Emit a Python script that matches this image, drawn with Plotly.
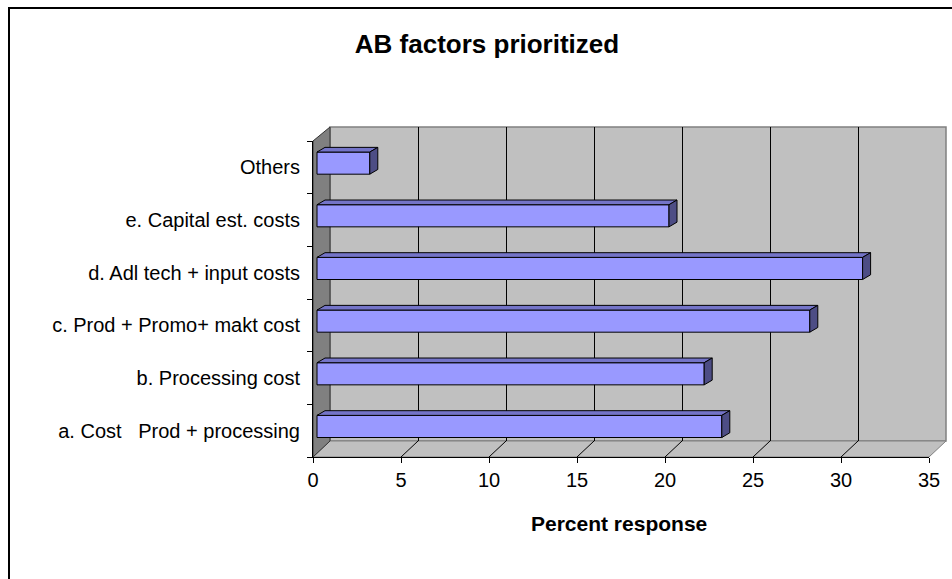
import plotly.graph_objects as go

# ---- data ----
categories = ["a. Cost\u00a0\u00a0 Prod + processing", "b. Processing cost",
              "c. Prod + Promo+ makt cost", "d. Adl tech + input costs",
              "e. Capital est. costs", "Others"]
values = [23, 22, 28, 31, 20, 3]
x_ticks = [0, 5, 10, 15, 20, 25, 30, 35]
title_text = "AB factors prioritized"
x_title = "Percent response"

# ---- layout geometry (pixels) ----
W, H = 952, 579
L, R, T, B = 313, 6, 127, 122
PW, PH = W - L - R, H - T - B
FRONT_W = 616          # front plane width (0..35)
FRONT_H = 316          # front plane height
DX, DY = 17, 16        # depth offset of back wall
XMAX = 35.0
UNIT = FRONT_W / XMAX  # px per unit

def px(xp):
    return xp / PW

def py(yp):
    return yp / PH

FONT = "Arial, Liberation Sans, sans-serif"

fig = go.Figure()

# back wall subplot (gridlines) on x/y
fig.add_trace(go.Scatter(x=[None], y=[None], xaxis="x", yaxis="y",
                         showlegend=False, hoverinfo="skip"))
# front axes subplot
fig.add_trace(go.Scatter(x=[None], y=[None], xaxis="x2", yaxis="y2",
                         showlegend=False, hoverinfo="skip"))

# bars (front faces)
BW = 0.42
BOFF = -0.13
fig.add_trace(go.Bar(
    orientation="h", x=values, y=categories, xaxis="x3", yaxis="y2",
    width=BW, offset=BOFF,
    marker=dict(color="#9999FF", line=dict(color="black", width=1)),
    showlegend=False, hoverinfo="skip"))

# 3D faces computed from values
ddx = 8 / UNIT
ddy = 4.7 / (FRONT_H / len(categories))
top_x, top_y, side_x, side_y = [], [], [], []
for i, v in enumerate(values):
    yb = i + BOFF
    yt = i + BOFF + BW
    top_x += [0, v, v + ddx, ddx, 0, None]
    top_y += [yt, yt, yt + ddy, yt + ddy, yt, None]
    side_x += [v, v, v + ddx, v + ddx, v, None]
    side_y += [yb, yt, yt + ddy, yb + ddy, yb, None]

fig.add_trace(go.Scatter(x=top_x, y=top_y, xaxis="x3", yaxis="y3", mode="lines",
                         fill="toself", fillcolor="#7474C8",
                         line=dict(color="black", width=1),
                         showlegend=False, hoverinfo="skip"))
fig.add_trace(go.Scatter(x=side_x, y=side_y, xaxis="x3", yaxis="y3", mode="lines",
                         fill="toself", fillcolor="#4D4D85",
                         line=dict(color="black", width=1),
                         showlegend=False, hoverinfo="skip"))

shapes = []
# outer chart border
shapes.append(dict(type="rect", xref="paper", yref="paper",
                   x0=px(9 - L), y0=py(H - B - 8), x1=px(W + 20 - L), y1=py(H - B - (H + 20)),
                   line=dict(color="black", width=2), fillcolor="rgba(0,0,0,0)", layer="below"))
# back wall
shapes.append(dict(type="rect", xref="paper", yref="paper",
                   x0=px(DX), y0=py(DY), x1=1, y1=1,
                   line=dict(color="#808080", width=1.5), fillcolor="#C0C0C0", layer="below"))
# floor
shapes.append(dict(type="path", xref="paper", yref="paper",
                   path=f"M 0,0 L {px(FRONT_W)},0 L 1,{py(DY)} L {px(DX)},{py(DY)} Z",
                   line=dict(color="#808080", width=1), fillcolor="#C0C0C0", layer="below"))
# left wall
shapes.append(dict(type="path", xref="paper", yref="paper",
                   path=f"M 0,{py(FRONT_H)} L {px(DX)},1 L {px(DX)},{py(DY)} L 0,0 Z",
                   line=dict(color="#333333", width=1), fillcolor="#808080", layer="below"))
# floor diagonals at ticks
for k in x_ticks[1:-1]:
    shapes.append(dict(type="line", xref="paper", yref="paper",
                       x0=px(k * UNIT), y0=0, x1=px(k * UNIT + DX), y1=py(DY),
                       line=dict(color="black", width=1), layer="below"))

annotations = [
    dict(text=f"<b>{x_title}</b>", xref="paper", yref="paper",
         x=px(619 - L), y=py(H - B - 523), xanchor="center", yanchor="middle",
         showarrow=False, font=dict(family=FONT, size=21, color="black")),
]

fig.update_layout(
    template="none",
    width=W, height=H,
    margin=dict(l=L, r=R, t=T, b=B, pad=0, autoexpand=False),
    paper_bgcolor="white", plot_bgcolor="rgba(0,0,0,0)",
    showlegend=False, hovermode=False,
    font=dict(family=FONT, size=20, color="black"),
    title=dict(text=f"<b>{title_text}</b>", xref="container", yref="container",
               x=487 / W, y=1 - 44 / H, xanchor="center", yanchor="middle",
               font=dict(family=FONT, size=26, color="black")),
    # back wall gridlines
    xaxis=dict(domain=[px(DX), 1], range=[0, XMAX], anchor="y", automargin=False,
               tickvals=x_ticks[1:-1], showgrid=True, gridcolor="black", gridwidth=1,
               showticklabels=False, ticks="", zeroline=False, showline=False),
    yaxis=dict(domain=[py(DY), 1], range=[0, 1], anchor="x", automargin=False,
               showgrid=False, showticklabels=False, ticks="", zeroline=False, showline=False),
    # front axes
    xaxis2=dict(domain=[0, px(FRONT_W)], range=[0, XMAX], anchor="y2", automargin=False,
                tickvals=x_ticks, ticks="outside", ticklen=5, tickcolor="black", tickwidth=1,
                showline=True, linecolor="black", linewidth=1,
                showgrid=False, zeroline=False,
                tickfont=dict(family=FONT, size=20, color="black")),
    yaxis2=dict(domain=[0, py(FRONT_H)], type="category", categoryorder="array",
                categoryarray=categories, range=[-0.5, len(categories) - 0.5], anchor="x2",
                automargin=False, ticklabelstandoff=8,
                ticks="outside", tickson="boundaries", ticklen=5, tickcolor="black", tickwidth=1,
                showline=True, linecolor="black", linewidth=1,
                showgrid=False, zeroline=False,
                tickfont=dict(family=FONT, size=20, color="black")),
    # bar axes (shifted slightly, as in the original 3D chart)
    xaxis3=dict(overlaying="x2", anchor="y2", range=[-4 / UNIT, XMAX - 4 / UNIT],
                visible=False, automargin=False),
    yaxis3=dict(overlaying="y2", anchor="x3", range=[-0.5, len(categories) - 0.5],
                visible=False, automargin=False),
    shapes=shapes,
    annotations=annotations,
)

fig.write_html("out.html", config={"displayModeBar": False},
               post_script="document.body.style.margin='0';document.body.style.padding='0';")
